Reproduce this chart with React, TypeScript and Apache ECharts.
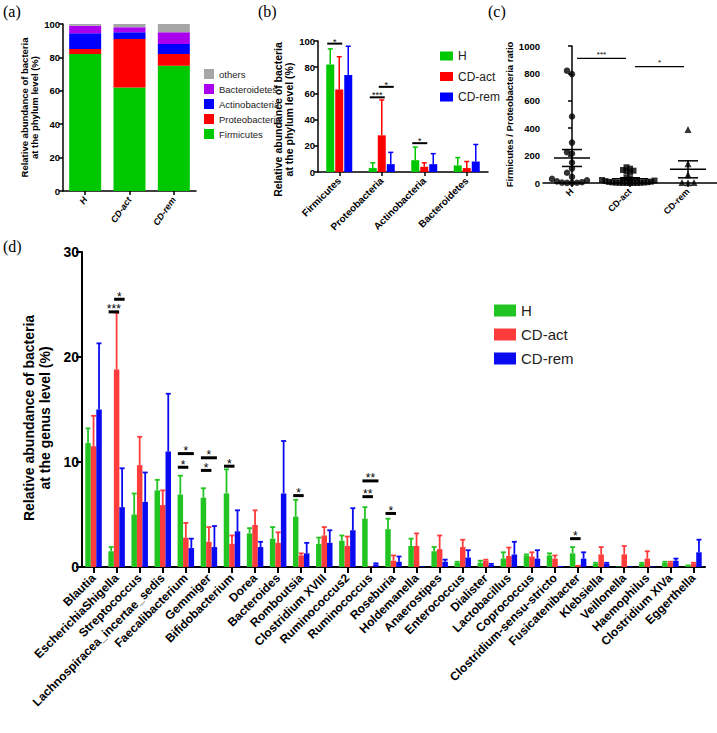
import React, { useEffect, useRef } from "react";
import * as echarts from "echarts";

const FONT = "'Liberation Sans', Arial, Helvetica, sans-serif";
const NARROW = "'Liberation Sans Narrow', 'Liberation Sans', Arial, sans-serif";

// ---------- Panel (a): stacked phylum composition ----------
const groupNames = ["H", "CD-act", "CD-rem"];
const stackFirmicutes = [82, 62, 75];
const stackProteobacteria = [3, 29, 7];
const stackActinobacteria = [9.5, 4, 6];
const stackBacteroidetes = [4.5, 3, 7];
const stackOthers = [1, 2, 5];

// ---------- Panel (b): phylum level mean + SD ----------
const phylumCategories = ["Firmicutes", "Proteobacteria", "Actinobacteria", "Bacteroidetes"];
const phylumH = [82, 3, 9, 5];
const phylumHSd = [12, 4, 10, 6];
const phylumAct = [63, 28, 4, 3];
const phylumActSd = [25, 27, 3, 5];
const phylumRem = [74, 6, 6, 8];
const phylumRemSd = [22, 9, 8, 13];
const phylumSigCat = [0, 1, 1, 2];
const phylumSigFrom = [0, 0, 1, 0];
const phylumSigTo = [1, 1, 2, 1];
const phylumSigY = [98, 57, 65, 22];
const phylumSigLabel = ["*", "***", "*", "*"];

// ---------- Panel (c): Firmicutes / Proteobacteria ratio ----------
const ratioH = [820, 795, 485, 295, 225, 215, 150, 105, 75, 45, 30, 20, 12, 6, 3, 2, 1, 0.5];
const ratioAct = [115, 105, 95, 90, 85, 75, 40, 30, 22, 18, 14, 10, 8, 6, 5, 4, 3, 2, 2, 1, 1, 0.5, 0.5, 0.3];
const ratioRem = [390, 140, 60, 4, 3, 2];
const ratioSigFrom = [0, 1];
const ratioSigTo = [1, 2];
const ratioSigY = [910, 850];
const ratioSigLabel = ["***", "*"];

// ---------- Panel (d): genus level mean + SD ----------
const genusCategories = [
  "Blautia", "EscherichiaShigella", "Streptococcus", "Lachnospiracea_incertae_sedis",
  "Faecalibacterium", "Gemmiger", "Bifidobacterium", "Dorea", "Bacteroides", "Romboutsia",
  "Clostridium XVIII", "Ruminococcus2", "Ruminococcus", "Roseburia", "Holdemanella",
  "Anaerostipes", "Enterococcus", "Dialister", "Lactobacillus", "Coprococcus",
  "Clostridium-sensu-stricto", "Fusicatenibacter", "Klebsiella", "Veillonella",
  "Haemophilus", "Clostridium XIVa", "Eggerthella",
];
const genusH = [11.8, 1.5, 5.0, 7.3, 6.9, 6.6, 7.0, 3.2, 2.7, 4.8, 2.2, 2.5, 4.6, 3.6, 2.0, 1.5, 0.4, 0.4, 0.8, 1.1, 1.1, 1.3, 0.3, 0.05, 0.3, 0.4, 0.1];
const genusHSd = [1.4, 0.4, 2.0, 1.0, 1.8, 0.9, 2.3, 0.5, 1.1, 1.6, 0.6, 0.5, 1.1, 1.0, 0.7, 0.4, 0.1, 0.2, 0.6, 0.1, 0.2, 0.6, 0.1, 0, 0.1, 0.1, 0.05];
const genusAct = [11.5, 18.8, 9.7, 5.9, 2.8, 2.4, 2.2, 4.0, 2.3, 1.1, 3.0, 2.0, 0.05, 0.6, 2.0, 1.7, 1.9, 0.6, 1.05, 1.0, 0.8, 0.2, 1.2, 1.2, 0.8, 0.4, 0.3];
const genusActSd = [2.9, 5.4, 2.7, 1.4, 1.4, 1.4, 0.8, 1.4, 1.0, 0.2, 0.8, 0.9, 0, 0.5, 1.2, 1.3, 0.7, 0.1, 0.8, 0.4, 0.3, 0, 0.7, 0.8, 0.7, 0.1, 0.1];
const genusRem = [15.0, 5.7, 6.2, 11.0, 1.8, 1.9, 3.4, 1.9, 7.0, 1.3, 2.3, 3.5, 0.25, 0.5, 0.05, 0.5, 0.9, 0.2, 1.2, 0.8, 0.1, 0.8, 0.3, 0.05, 0.05, 0.6, 1.4];
const genusRemSd = [6.3, 3.7, 2.8, 5.5, 0.9, 2.0, 2.0, 0.5, 5.0, 1.0, 1.2, 2.1, 0.1, 0.5, 0, 0.2, 0.7, 0.1, 1.2, 0.8, 0, 0.6, 0.1, 0, 0, 0.2, 1.2];
const genusSigCat = [1, 1, 4, 4, 5, 5, 6, 9, 12, 12, 13, 21];
const genusSigFrom = [0, 1, 0, 0, 0, 0, 0, 0, 0, 0, 0, 0];
const genusSigTo = [1, 2, 1, 2, 1, 2, 1, 1, 1, 2, 1, 1];
const genusSigY = [24.3, 25.5, 9.5, 10.8, 9.2, 10.4, 9.6, 6.8, 6.7, 8.2, 5.1, 2.7];
const genusSigLabel = ["***", "*", "*", "*", "*", "*", "*", "*", "**", "**", "*", "*"];

// colours
const A_GREEN = "#00c800", A_RED = "#ff0000", A_BLUE = "#0000ff", A_PURPLE = "#aa00ee", A_GREY = "#a6a6a6";
const D_GREEN = "#22c422", D_RED = "#ff3c3c", D_BLUE = "#0a0af0";

const meanOf = (a: number[]) => a.reduce((s, v) => s + v, 0) / a.length;
const semOf = (a: number[]) => {
  const m = meanOf(a);
  const v = a.reduce((s, x) => s + (x - m) * (x - m), 0) / (a.length - 1);
  return Math.sqrt(v / a.length);
};

// simple beeswarm layout for a column of points (horizontal positions only)
function swarm(values: number[], cat: number, pxPerUnitY: number, pxPerUnitX: number, stepPx: number) {
  const placed: { x: number; y: number }[] = [];
  const sorted = [...values].sort((a, b) => a - b);
  const step = stepPx / pxPerUnitX;
  for (const v of sorted) {
    let k = 0;
    while (k < 200) {
      const off = k === 0 ? 0 : (k % 2 === 1 ? -1 : 1) * Math.ceil(k / 2) * step;
      const x = cat + off;
      const ok = placed.every(
        (p) => Math.abs(p.x - x) * pxPerUnitX >= stepPx - 0.01 || Math.abs(p.y - v) * pxPerUnitY >= stepPx
      );
      if (ok) {
        placed.push({ x, y: v });
        break;
      }
      k++;
    }
  }
  return placed.map((p) => [p.x, p.y]);
}

function errorBarSeries(
  xAxisIndex: number, yAxisIndex: number, means: number[], sds: number[],
  slot: number, slots: number, bw: number, gap: number, color: string, lw: number, cap: number
): any {
  return {
    type: "custom",
    name: "err",
    xAxisIndex,
    yAxisIndex,
    silent: true,
    z: 3,
    encode: { x: 0, y: 1 },
    data: means.map((m, i) => [i, m, sds[i]]),
    renderItem: (params: any, api: any) => {
      const cat = api.value(0);
      const m = api.value(1);
      const sd = api.value(2);
      if (!(sd > 0)) return null;
      const p0 = api.coord([cat, m]);
      const p1 = api.coord([cat, m + sd]);
      const x = p0[0] + (slot - (slots - 1) / 2) * (bw + gap);
      return {
        type: "group",
        children: [
          { type: "line", shape: { x1: x, y1: p0[1], x2: x, y2: p1[1] }, style: { stroke: color, lineWidth: lw } },
          { type: "line", shape: { x1: x - cap, y1: p1[1], x2: x + cap, y2: p1[1] }, style: { stroke: color, lineWidth: lw } },
        ],
      };
    },
  };
}

function sigSeries(
  xAxisIndex: number, yAxisIndex: number, cats: number[], froms: number[], tos: number[],
  ys: number[], labels: string[], slots: number, bw: number, gap: number, lw: number, fontSize: number, ext: number
): any {
  return {
    type: "custom",
    name: "sig",
    xAxisIndex,
    yAxisIndex,
    silent: true,
    z: 4,
    encode: { x: 0, y: 1 },
    data: cats.map((c, i) => [c, ys[i]]),
    renderItem: (params: any, api: any) => {
      const i = params.dataIndex;
      const p = api.coord([api.value(0), api.value(1)]);
      const xa = p[0] + (froms[i] - (slots - 1) / 2) * (bw + gap) - ext;
      const xb = p[0] + (tos[i] - (slots - 1) / 2) * (bw + gap) + ext;
      return {
        type: "group",
        children: [
          { type: "line", shape: { x1: xa, y1: p[1], x2: xb, y2: p[1] }, style: { stroke: "#000", lineWidth: lw } },
          {
            type: "text",
            x: (xa + xb) / 2,
            y: p[1] - lw / 2 - 1,
            style: {
              text: labels[i], fill: "#000", fontSize, lineHeight: fontSize, fontFamily: FONT,
              align: "center", verticalAlign: "middle",
            },
          },
        ],
      };
    },
  };
}

export default function App() {
  const ref = useRef<HTMLDivElement>(null);

  useEffect(() => {
    if (!ref.current) return;
    const chart = echarts.init(ref.current, undefined, { renderer: "svg" });

    const axisLine = (w: number) => ({ show: true, lineStyle: { color: "#000", width: w } });
    const axisTick = (w: number, len: number, align = false) => ({
      show: true, length: len, alignWithLabel: align, lineStyle: { color: "#000", width: w },
    });
    const smallY = (name: string, gap: number, size: number, pad: number[]): any => ({
      type: "value",
      min: 0,
      axisLine: axisLine(1.5),
      axisTick: axisTick(1.5, 4),
      splitLine: { show: false },
      axisLabel: {
        color: "#000", fontWeight: "bold", fontSize: 9.5, fontFamily: FONT, margin: 3,
        formatter: (v: number) => String(v),
      },
      name,
      nameLocation: "middle",
      nameGap: gap,
      nameTextStyle: { color: "#000", fontWeight: "bold", fontSize: size, fontFamily: FONT, lineHeight: size + 1, padding: pad },
    });

    // panel c swarm coordinates (grid c: width 174 px for 3 categories, height 137 px for 1000)
    const pxX = 174 / 3;
    const pxY = 137 / 1000;
    const ptsH = swarm(ratioH, 0, pxY, pxX, 5);
    const ptsAct = swarm(ratioAct, 1, pxY, pxX, 3.5);
    const ptsRem = swarm(ratioRem, 2, pxY, pxX, 6);
    const ratioStats = [ratioH, ratioAct, ratioRem].map((a, i) => [i, meanOf(a), semOf(a)]);

    const option: any = {
      animation: false,
      backgroundColor: "#fff",
      textStyle: { fontFamily: FONT },
      grid: [
        { left: 63, top: 24, width: 133, height: 167 },
        { left: 318, top: 41, width: 170, height: 131 },
        { left: 543, top: 46, width: 174, height: 137 },
        { left: 82, top: 252, width: 623, height: 315 },
      ],
      xAxis: [
        {
          type: "category", gridIndex: 0, data: groupNames,
          axisLine: axisLine(1.5), axisTick: axisTick(1.5, 4, true),
          axisLabel: { color: "#000", fontWeight: "bold", fontStyle: "italic", fontSize: 9, fontFamily: FONT, rotate: 55, margin: 7, interval: 0 },
        },
        {
          type: "category", gridIndex: 1, data: phylumCategories,
          axisLine: axisLine(1.5), axisTick: axisTick(1.5, 4, true),
          axisLabel: { color: "#000", fontWeight: "bold", fontSize: 10, fontFamily: FONT, rotate: 45, margin: 7, interval: 0 },
        },
        {
          type: "category", gridIndex: 2, data: groupNames,
          axisLine: axisLine(1.5), axisTick: axisTick(1.5, 4, true),
          axisLabel: { color: "#000", fontWeight: "bold", fontSize: 9, fontFamily: FONT, rotate: 45, margin: 7, interval: 0 },
        },
        {
          type: "category", gridIndex: 3, data: genusCategories,
          axisLine: axisLine(2), axisTick: axisTick(2, 6, true),
          axisLabel: { color: "#000", fontWeight: "bold", fontSize: 12, fontFamily: FONT, rotate: 45, margin: 9, interval: 0 },
        },
        { type: "value", gridIndex: 2, min: -0.5, max: 2.5, show: false },
      ],
      yAxis: [
        { ...smallY("Relative abundance of bacteria\nat the phylum level (%)", 20, 9.5, [0, 0, 0, 0]), gridIndex: 0, max: 100, interval: 20 },
        { ...smallY("Relative abundance of bacteria\nat the phylum level (%)", 19, 10.5, [0, 26, 0, 0]), gridIndex: 1, max: 100, interval: 20 },
        { ...smallY("Firmicutes / Proteobacteria ratio", 23, 9.5, [0, 0, 0, 0]), gridIndex: 2, max: 1000, interval: 200 },
        {
          type: "value", gridIndex: 3, min: 0, max: 30, interval: 10,
          axisLine: axisLine(2), axisTick: axisTick(2, 6), splitLine: { show: false },
          axisLabel: { color: "#000", fontWeight: "bold", fontSize: 14, fontFamily: FONT, margin: 3 },
          name: "Relative abundance of bacteria\nat the genus level (%)",
          nameLocation: "middle",
          nameGap: 27,
          nameTextStyle: { color: "#000", fontWeight: "bold", fontSize: 14, fontFamily: FONT, lineHeight: 16, padding: [0, 17, 0, 0] },
        },
      ],
      legend: [
        {
          left: 199, top: 64, orient: "vertical", icon: "rect", itemWidth: 10, itemHeight: 10, itemGap: 5,
          selectedMode: false,
          textStyle: { fontSize: 9.5, color: "#222", fontFamily: NARROW },
          data: ["others", "Bacteroidetes", "Actinobacteria", "Proteobacteria", "Firmicutes"],
        },
        {
          left: 435, top: 45, orient: "vertical", icon: "rect", itemWidth: 13, itemHeight: 9, itemGap: 8.5,
          selectedMode: false,
          textStyle: { fontSize: 12, color: "#222", fontFamily: FONT },
          data: [
            { name: "H", itemStyle: { color: A_GREEN } },
            { name: "CD-act", itemStyle: { color: A_RED } },
            { name: "CD-rem", itemStyle: { color: A_BLUE } },
          ],
        },
        {
          left: 489, top: 298, orient: "vertical", icon: "rect", itemWidth: 22, itemHeight: 12, itemGap: 9,
          selectedMode: false,
          textStyle: { fontSize: 15, color: "#222", fontFamily: FONT },
          data: [
            { name: "H", itemStyle: { color: D_GREEN } },
            { name: "CD-act", itemStyle: { color: D_RED } },
            { name: "CD-rem", itemStyle: { color: D_BLUE } },
          ],
        },
      ],
      graphic: [
        { type: "text", left: 3, top: 3, style: { text: "(a)", fontSize: 16, fontFamily: "'Liberation Serif', 'DejaVu Serif', serif", fill: "#000" } },
        { type: "text", left: 258, top: 3, style: { text: "(b)", fontSize: 16, fontFamily: "'Liberation Serif', 'DejaVu Serif', serif", fill: "#000" } },
        { type: "text", left: 488, top: 3, style: { text: "(c)", fontSize: 16, fontFamily: "'Liberation Serif', 'DejaVu Serif', serif", fill: "#000" } },
        { type: "text", left: 3, top: 238, style: { text: "(d)", fontSize: 16, fontFamily: "'Liberation Serif', 'DejaVu Serif', serif", fill: "#000" } },
      ],
      series: [
        // panel a
        { name: "Firmicutes", type: "bar", stack: "a", xAxisIndex: 0, yAxisIndex: 0, barWidth: 32, data: stackFirmicutes, itemStyle: { color: A_GREEN } },
        { name: "Proteobacteria", type: "bar", stack: "a", xAxisIndex: 0, yAxisIndex: 0, barWidth: 32, data: stackProteobacteria, itemStyle: { color: A_RED } },
        { name: "Actinobacteria", type: "bar", stack: "a", xAxisIndex: 0, yAxisIndex: 0, barWidth: 32, data: stackActinobacteria, itemStyle: { color: A_BLUE } },
        { name: "Bacteroidetes", type: "bar", stack: "a", xAxisIndex: 0, yAxisIndex: 0, barWidth: 32, data: stackBacteroidetes, itemStyle: { color: A_PURPLE } },
        { name: "others", type: "bar", stack: "a", xAxisIndex: 0, yAxisIndex: 0, barWidth: 32, data: stackOthers, itemStyle: { color: A_GREY } },

        // panel b
        { name: "H", type: "bar", xAxisIndex: 1, yAxisIndex: 1, barWidth: 8, barGap: "12.5%", data: phylumH, itemStyle: { color: A_GREEN } },
        { name: "CD-act", type: "bar", xAxisIndex: 1, yAxisIndex: 1, barWidth: 8, barGap: "12.5%", data: phylumAct, itemStyle: { color: A_RED } },
        { name: "CD-rem", type: "bar", xAxisIndex: 1, yAxisIndex: 1, barWidth: 8, barGap: "12.5%", data: phylumRem, itemStyle: { color: A_BLUE } },
        errorBarSeries(1, 1, phylumH, phylumHSd, 0, 3, 8, 1, A_GREEN, 1.5, 2.5),
        errorBarSeries(1, 1, phylumAct, phylumActSd, 1, 3, 8, 1, A_RED, 1.5, 2.5),
        errorBarSeries(1, 1, phylumRem, phylumRemSd, 2, 3, 8, 1, A_BLUE, 1.5, 2.5),
        sigSeries(1, 1, phylumSigCat, phylumSigFrom, phylumSigTo, phylumSigY, phylumSigLabel, 3, 8, 1, 2, 9, 3),

        // panel c
        { name: "ratioH", type: "scatter", xAxisIndex: 4, yAxisIndex: 2, symbol: "circle", symbolSize: 6.5, data: ptsH, itemStyle: { color: "#000" }, clip: false },
        { name: "ratioAct", type: "scatter", xAxisIndex: 4, yAxisIndex: 2, symbol: "rect", symbolSize: 6, data: ptsAct, itemStyle: { color: "#000" }, clip: false },
        { name: "ratioRem", type: "scatter", xAxisIndex: 4, yAxisIndex: 2, symbol: "triangle", symbolSize: 7, data: ptsRem, itemStyle: { color: "#000" }, clip: false },
        {
          type: "custom", name: "meanSem", xAxisIndex: 4, yAxisIndex: 2, silent: true, z: 5,
          encode: { x: 0, y: 1 },
          data: ratioStats,
          renderItem: (params: any, api: any) => {
            const c = api.value(0), m = api.value(1), s = api.value(2);
            const pm = api.coord([c, m]);
            const pt = api.coord([c, m + s]);
            const pb = api.coord([c, Math.max(m - s, 0)]);
            const st = { stroke: "#000", lineWidth: 1.5 };
            return {
              type: "group",
              children: [
                { type: "line", shape: { x1: pm[0] - 18, y1: pm[1], x2: pm[0] + 18, y2: pm[1] }, style: st },
                { type: "line", shape: { x1: pm[0] - 10, y1: pt[1], x2: pm[0] + 10, y2: pt[1] }, style: st },
                { type: "line", shape: { x1: pm[0] - 10, y1: pb[1], x2: pm[0] + 10, y2: pb[1] }, style: st },
                { type: "line", shape: { x1: pm[0], y1: pb[1], x2: pm[0], y2: pt[1] }, style: st },
              ],
            };
          },
        },
        {
          type: "custom", name: "ratioSig", xAxisIndex: 4, yAxisIndex: 2, silent: true, z: 5,
          encode: { x: 0, y: 2 },
          data: ratioSigFrom.map((f, i) => [f, ratioSigTo[i], ratioSigY[i]]),
          renderItem: (params: any, api: any) => {
            const i = params.dataIndex;
            const pa = api.coord([api.value(0), api.value(2)]);
            const pb = api.coord([api.value(1), api.value(2)]);
            const xa = pa[0] + 5;
            const xb = pb[0] - 4;
            return {
              type: "group",
              children: [
                { type: "line", shape: { x1: xa, y1: pa[1], x2: xb, y2: pa[1] }, style: { stroke: "#000", lineWidth: 1.3 } },
                {
                  type: "text", x: (xa + xb) / 2, y: pa[1] - 4,
                  style: { text: ratioSigLabel[i], fill: "#000", fontSize: 8, fontFamily: FONT, align: "center", verticalAlign: "middle" },
                },
              ],
            };
          },
        },

        // panel d
        { name: "H", type: "bar", xAxisIndex: 3, yAxisIndex: 3, barWidth: 5.5, barGap: "0%", data: genusH, itemStyle: { color: D_GREEN } },
        { name: "CD-act", type: "bar", xAxisIndex: 3, yAxisIndex: 3, barWidth: 5.5, barGap: "0%", data: genusAct, itemStyle: { color: D_RED } },
        { name: "CD-rem", type: "bar", xAxisIndex: 3, yAxisIndex: 3, barWidth: 5.5, barGap: "0%", data: genusRem, itemStyle: { color: D_BLUE } },
        errorBarSeries(3, 3, genusH, genusHSd, 0, 3, 5.5, 0, D_GREEN, 1.8, 2.5),
        errorBarSeries(3, 3, genusAct, genusActSd, 1, 3, 5.5, 0, D_RED, 1.8, 2.5),
        errorBarSeries(3, 3, genusRem, genusRemSd, 2, 3, 5.5, 0, D_BLUE, 1.8, 2.5),
        sigSeries(3, 3, genusSigCat, genusSigFrom, genusSigTo, genusSigY, genusSigLabel, 3, 5.5, 0, 3, 12, 2.5),
      ],
    };

    chart.setOption(option);
    return () => chart.dispose();
  }, []);

  return (
    <div
      ref={ref}
      style={{ position: "absolute", left: 0, top: 0, width: 717, height: 733, background: "#fff" }}
    />
  );
}
